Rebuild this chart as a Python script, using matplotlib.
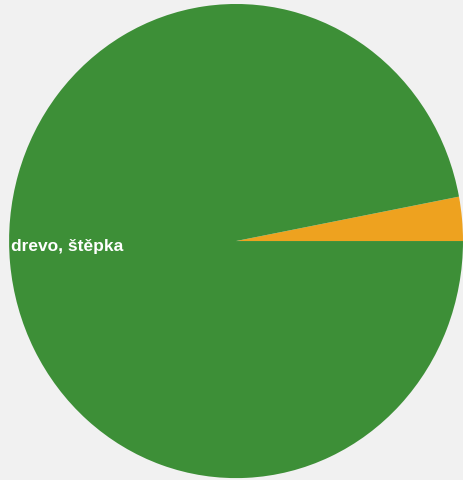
import matplotlib

matplotlib.use('Agg')
import matplotlib.pyplot as plt

# podíly paliv (odhad z obrázku)
labels = ['', 'drevo, štěpka']
values = [3.0, 97.0]
colors = ['#eea21f', '#3d8f37']

fig = plt.figure(figsize=(4.63, 4.81), dpi=100)
fig.patch.set_facecolor('#f1f1f1')
ax = fig.add_axes([0, 0, 1, 1])
ax.set_facecolor('#f1f1f1')

ax.pie(values, colors=colors, startangle=0, counterclock=True,
       wedgeprops=dict(linewidth=0))

# popisek uvnitř zelené výseče
ax.text(-0.99, -0.02, labels[1], color='white', fontsize=12.5,
        fontweight='bold', ha='left', va='center', family='Liberation Sans')

ax.set_aspect('auto')
ax.set_xlim(-1.04, 1.0)
ax.set_ylim(-1.008, 1.021)
ax.axis('off')

fig.savefig('out.png', dpi=100, facecolor=fig.get_facecolor())
